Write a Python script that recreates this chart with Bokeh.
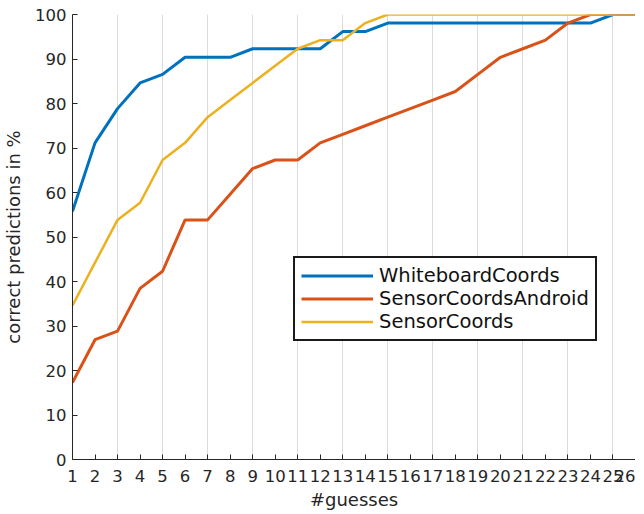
from bokeh.plotting import figure
from bokeh.embed import file_html
from bokeh.resources import INLINE
from bokeh.models import FixedTicker, Range1d, Legend, LegendItem

guesses = list(range(1, 27))
n = 52
whiteboard = [29, 37, 41, 44, 45, 47, 47, 47, 48, 48, 48, 48, 50, 50, 51, 51, 51, 51, 51, 51, 51, 51, 51, 51, 52, 52]
android = [9, 14, 15, 20, 22, 28, 28, 31, 34, 35, 35, 37, 38, 39, 40, 41, 42, 43, 45, 47, 48, 49, 51, 52, 52, 52]
sensor = [18, 23, 28, 30, 35, 37, 40, 42, 44, 46, 48, 49, 49, 51, 52, 52, 52, 52, 52, 52, 52, 52, 52, 52, 52, 52]
whiteboard = [v * 100.0 / n for v in whiteboard]
android = [v * 100.0 / n for v in android]
sensor = [v * 100.0 / n for v in sensor]
y_ticks = list(range(0, 101, 10))
x_grid = list(range(1, 27, 2))

FONT = "DejaVu Sans"
p = figure(frame_width=563, frame_height=445, output_backend="svg", toolbar_location=None,
           x_range=Range1d(1, 26), y_range=Range1d(0, 100),
           min_border_left=62, min_border_right=0, min_border_top=14, min_border_bottom=38)
p.outline_line_color = None
p.background_fill_color = "white"

r1 = p.line(guesses, whiteboard, line_color="#0072BD", line_width=3)
r2 = p.line(guesses, android, line_color="#D95319", line_width=3)
r3 = p.line(guesses, sensor, line_color="#EDB120", line_width=2.5)

p.xaxis.ticker = FixedTicker(ticks=guesses)
p.yaxis.ticker = FixedTicker(ticks=y_ticks)
p.xgrid.ticker = FixedTicker(ticks=x_grid)
p.ygrid.grid_line_color = None
p.xgrid.grid_line_color = "#dcdcdc"
p.xgrid.grid_line_width = 1

for ax in (p.xaxis, p.yaxis):
    ax.axis_line_color = "#262626"
    ax.axis_line_width = 1
    ax.major_tick_line_color = "#262626"
    ax.major_tick_in = 5
    ax.major_tick_out = 0
    ax.minor_tick_line_color = None
    ax.major_label_text_font = FONT
    ax.major_label_text_font_size = "16.5px"
    ax.major_label_text_color = "#262626"
    ax.axis_label_text_font = FONT
    ax.axis_label_text_font_size = "18px"
    ax.axis_label_text_font_style = "normal"
    ax.axis_label_text_color = "#262626"

p.xaxis.axis_label = "#guesses"
p.yaxis.axis_label = "correct predictions in %"
p.xaxis.major_label_standoff = 10
p.yaxis.major_label_standoff = 6
p.xaxis.axis_label_standoff = 4
p.yaxis.axis_label_standoff = 8

legend = Legend(items=[
    LegendItem(label="WhiteboardCoords", renderers=[r1]),
    LegendItem(label="SensorCoordsAndroid", renderers=[r2]),
    LegendItem(label="SensorCoords", renderers=[r3]),
], location=(221, 118))
legend.label_text_font = FONT
legend.label_text_font_size = "19.5px"
legend.label_text_color = "#111111"
legend.glyph_width = 72
legend.glyph_height = 23
legend.label_height = 23
legend.label_standoff = 6
legend.spacing = 0
legend.padding = 6
legend.margin = 0
legend.border_line_color = "#1a1a1a"
legend.border_line_alpha = 1
legend.border_line_width = 2
legend.background_fill_alpha = 1
p.add_layout(legend, "center")

open("out.html", "w").write(file_html(p, INLINE))
